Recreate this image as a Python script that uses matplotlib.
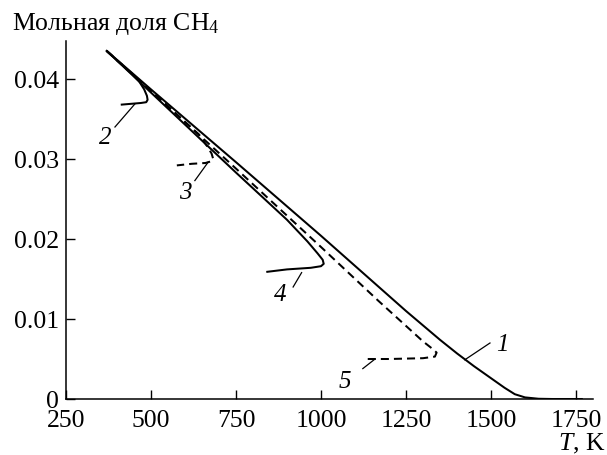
import matplotlib
matplotlib.use("Agg")
import matplotlib.pyplot as plt

plt.rcParams['font.family'] = 'serif'
plt.rcParams['font.serif'] = ['Liberation Serif', 'DejaVu Serif']
plt.rcParams['mathtext.fontset'] = 'custom'
plt.rcParams['mathtext.rm'] = 'Liberation Serif'
plt.rcParams['mathtext.it'] = 'Liberation Serif:italic'
plt.rcParams['mathtext.default'] = 'regular'

# Curve 1 (solid)
T1 = [370, 500, 750, 1000, 1250, 1350, 1400, 1450, 1500, 1540, 1570, 1600, 1640, 1680, 1770]
y1 = [0.0435, 0.0387, 0.0296, 0.0204, 0.0110, 0.0074, 0.0057, 0.0041, 0.0026, 0.0014, 0.0006, 0.0002, 0.00003, 0.0, 0.0]

# Curve 2 (solid)
T2 = [370, 440, 465, 480, 488, 490, 486, 470, 414]
y2 = [0.0435, 0.0408, 0.0397, 0.0387, 0.0379, 0.0374, 0.0371, 0.0370, 0.0368]

# Curve 3 (dashed)
T3 = [370, 500, 640, 665, 678, 683, 676, 660, 620, 576]
y3 = [0.0435, 0.0385, 0.0331, 0.0316, 0.0307, 0.0300, 0.0297, 0.0295, 0.0294, 0.0292]

# Curve 4 (solid)
T4 = [370, 500, 750, 900, 960, 990, 1005, 1008, 1000, 970, 900, 842]
y4 = [0.0435, 0.0383, 0.0283, 0.0224, 0.0197, 0.0182, 0.0174, 0.0169, 0.0166, 0.0164, 0.0162, 0.0159]

# Curve 5 (dashed)
T5 = [370, 500, 750, 1000, 1168, 1300, 1330, 1340, 1335, 1300, 1200, 1130]
y5 = [0.0435, 0.0385, 0.0288, 0.0190, 0.0123, 0.0072, 0.0062, 0.0058, 0.0053, 0.0051, 0.0050, 0.0050]

labels = ['1', '2', '3', '4', '5']
label_xy = [(1532, 0.0069), (365, 0.0328), (600, 0.0259), (879, 0.0131), (1070, 0.0023)]
leader_start = [(1497, 0.0070), (394, 0.0340), (629, 0.0273), (918, 0.0140), (1123, 0.0038)]
leader_end = [(1423, 0.0049), (453, 0.0369), (668, 0.0296), (943, 0.0158), (1159, 0.0050)]

xticks = [250, 500, 750, 1000, 1250, 1500, 1750]
yticks = [0, 0.01, 0.02, 0.03, 0.04]
yticklabels = ['0', '0.01', '0.02', '0.03', '0.04']

fig = plt.figure(figsize=(6.07, 4.56), dpi=100)
ax = fig.add_axes([66/607, 56/456, (593-66)/607, (400-42)/456])

lw = 1.45
ax.plot(T1, y1, color='black', lw=lw, solid_capstyle='butt')
ax.plot(T2, y2, color='black', lw=lw)
ax.plot(T3, y3, color='black', lw=lw, dashes=(4, 2.5))
ax.plot(T4, y4, color='black', lw=lw)
ax.plot(T5, y5, color='black', lw=lw, dashes=(4, 2.5))

for lab, (tx, ty), (sx, sy), (ex, ey) in zip(labels, label_xy, leader_start, leader_end):
    ax.plot([sx, ex], [sy, ey], color='black', lw=0.9)
    ax.text(tx, ty, lab, fontsize=18, style='italic', ha='center', va='center')

ax.set_xlim(250, 1800)
ax.set_ylim(0, 0.04475)
ax.set_xticks(xticks)
ax.set_yticks(yticks)
ax.set_yticklabels(yticklabels)
ax.spines['top'].set_visible(False)
ax.spines['right'].set_visible(False)
for s in ['left', 'bottom']:
    ax.spines[s].set_linewidth(1.1)
ax.tick_params(direction='in', length=6.5, width=1.0, labelsize=18.5)
ax.tick_params(axis='x', pad=7)
ax.tick_params(axis='y', pad=5)

fig.text(12/607, 1 - 24/456, 'Мольная доля CH$_{4}$', fontsize=18.5, ha='left', va='center')
fig.text(605/607, 1 - 444/456, '$\\mathit{T}$, K', fontsize=18.5, ha='right', va='center')

fig.savefig('out.png', dpi=100)
